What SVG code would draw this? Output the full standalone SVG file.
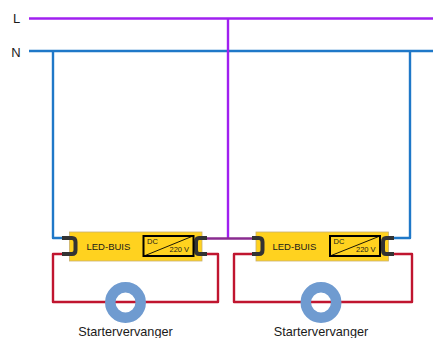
<svg xmlns="http://www.w3.org/2000/svg" width="433" height="338" viewBox="0 0 433 338">
<style>
text{font-family:"Liberation Sans",Arial,sans-serif;fill:#1a1a1a}
.w{fill:none;stroke-width:2.4;stroke-linejoin:round}
.b{stroke:#1f78c8}.p{stroke:#a020f0}.r{stroke:#c0152f}
.box{fill:#ffd21f;stroke:#c9b070;stroke-width:.8}
.inv{fill:none;stroke:#000;stroke-width:2}
.pin{fill:none;stroke:#333;stroke-width:4}
.ring{fill:none;stroke:#6f9bd0;stroke-width:10.5}
.lbl{font-size:9.5px}.sm{font-size:7.5px}.st{font-size:12.7px;text-anchor:middle}.ln{font-size:13px;text-anchor:middle}
</style>
<g id="connectors">
<path class="w p" d="M29 18.500H433"/>
<path class="w b" d="M29 51H433"/>
<path class="w b" d="M53 51V238H64"/>
<path class="w b" d="M410 51V238H392"/>
<path class="w p" d="M228 18.500V238"/>
<path d="M198 238.500H258" fill="none" stroke="#8a2c90" stroke-width="2.400"/>
<path class="w r" d="M64 254H53V302H218V254H205"/>
<path class="w r" d="M256 254H234V302H412V254H392"/>
</g>
<g id="label-L"><text class="ln" x="16.500" y="22.500">L</text></g>
<g id="label-N"><text class="ln" x="16" y="56.500">N</text></g>
<g id="tube-1">
<rect class="box" x="69.500" y="232" width="132.500" height="29"/>
<path class="pin" d="M62 238H72Q75.500 238 75.500 242V250Q75.500 254 72 254H62"/>
<path class="pin" d="M207 238H199Q196 238 196 242V250Q196 254 199 254H207"/>
<text class="lbl" x="86.500" y="249.500">LED-BUIS</text>
<rect class="inv" x="143.500" y="236" width="50" height="20"/>
<path d="M144 256L193 236" stroke="#000" stroke-width=".9"/>
<text class="sm" x="147" y="244">DC</text>
<text class="sm" x="169.500" y="252">220 V</text>
</g>
<g id="tube-2">
<rect class="box" x="256" y="232" width="132.500" height="29"/>
<path class="pin" d="M252 238H259Q262.500 238 262.500 242V250Q262.500 254 259 254H252"/>
<path class="pin" d="M394 238H386Q383 238 383 242V250Q383 254 386 254H394"/>
<text class="lbl" x="272.500" y="249.500">LED-BUIS</text>
<rect class="inv" x="330" y="236" width="50" height="20"/>
<path d="M330 256L380 236" stroke="#000" stroke-width=".9"/>
<text class="sm" x="333.500" y="244">DC</text>
<text class="sm" x="356" y="252">220 V</text>
</g>
<g id="starter-1"><circle class="ring" cx="125.500" cy="302.500" r="15.200"/><text class="st" x="125.500" y="335.500">Startervervanger</text></g>
<g id="starter-2"><circle class="ring" cx="321" cy="302.500" r="15.200"/><text class="st" x="321" y="335.500">Startervervanger</text></g>
</svg>
